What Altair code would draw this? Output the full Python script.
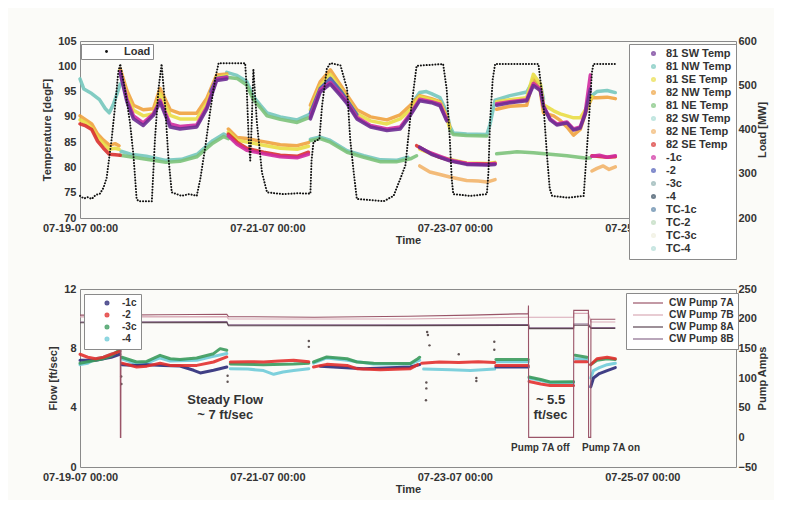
import altair as alt
import pandas as pd

BASE = pd.Timestamp("2007-07-19 00:00:00")
FONT = "Liberation Sans"
TEXT_COLOR = "#333333"

# ---------------- top panel: temperatures (hours since 07-19-07 00:00, degF) ----------------
TEMP_NAMES = ["81 SW Temp", "81 NW Temp", "81 SE Temp", "82 NW Temp", "81 NE Temp",
              "82 SW Temp", "82 NE Temp", "82 SE Temp", "-1c", "-2", "-3c", "-4",
              "TC-1c", "TC-2", "TC-3c", "TC-4"]
TEMP_COLORS = ["#6b2d92", "#74c6bc", "#e9dd45", "#efa23e", "#7cc27a",
               "#a8dcd4", "#f2b46a", "#d9302f", "#cf2a9f", "#4d5bb7", "#8fb0b0", "#33495e",
               "#5a83a6", "#bcd9bc", "#eeeedd", "#b2dcd6"]

TEAL = [
    [(0, 97.5), (1, 95.5), (3, 94.6), (5, 93.4), (6.5, 91.6), (7.5, 90.8), (8.5, 92.4), (9.5, 94.6), (10.3, 96.5)],
    [(10.5, 83.2), (13, 82.6), (17, 82.2), (22, 81.4), (26, 81.6), (30, 82.6), (34, 85.3), (36.8, 86.6), (37.6, 86.2)],
    [(37.6, 98.8), (40.2, 98.2), (42.7, 97.0), (44.4, 94.0), (46.2, 92.3), (47.9, 90.8), (51.3, 90.0), (55.6, 89.4), (58.5, 90.4)],
    [(59, 85.6), (61.5, 86.0), (64, 85.4), (68.4, 83.3), (72.7, 82.3), (77, 81.5), (81, 81.4), (84, 82.0)],
    [(85.3, 93.0), (87, 94.8), (88.7, 95.0), (90, 94.6), (92.2, 93.8), (93.9, 91.0), (94.7, 88.2), (95.6, 86.8),
     (99, 86.6), (104.2, 86.5), (105, 88.5), (106.3, 93.3), (110.1, 94.2), (114.4, 94.9), (116.1, 97.2),
     (117.9, 96.3), (118.7, 93.5)],
    [(130.7, 94.0), (132.4, 95.0), (135, 95.2), (137.1, 94.8)],
]
GREEN = [
    [(10.3, 82.4), (12.8, 82.1), (17, 81.6), (22, 81.0), (25.6, 81.2), (29.9, 82.1), (34, 84.8), (36.8, 86.1), (38, 85.7)],
    [(38, 97.8), (40.2, 97.6), (42.7, 96.3), (44.4, 93.4), (46.2, 91.8), (47.9, 90.2), (51.3, 89.5), (55.6, 88.9), (58.5, 89.8)],
    [(59, 85.3), (61.5, 85.7), (64.1, 85.0), (68.4, 83.0), (72.7, 82.0), (77, 81.1), (81, 81.1), (84.6, 81.7), (86.2, 82.3)],
    [(94.7, 87.5), (95.6, 86.5), (99, 86.3), (104.2, 86.2)],
    [(106.7, 82.7), (111.9, 83.1), (116.1, 82.9), (120.4, 82.6), (124.7, 82.3), (129.8, 81.8), (130.7, 81.9)],
]
ORANGE = [
    [(0, 90.2), (1.5, 89.4), (3, 88.6), (4.5, 86.6), (6, 85.4), (7.5, 84.4), (9, 84.7), (10, 84.3)],
    [(10.3, 99.5), (12, 95.2), (13.7, 92.3), (16.2, 91.4), (18.8, 91.6), (20.5, 95.6), (23.1, 91.4), (25.6, 90.7),
     (29.9, 90.7), (32.5, 93.7), (35, 98.3), (37.6, 98.5)],
    [(38, 87.6), (40.2, 85.9), (42.7, 85.7), (47, 85.1), (51.3, 84.5), (55.6, 84.3), (58.5, 84.9)],
    [(59, 92.3), (61.5, 96.9), (64.1, 99.3), (66.7, 96.3), (68.4, 94.3), (70.9, 91.4), (74.4, 90.0), (78.6, 89.4),
     (82, 90.4), (84.6, 92.3), (87, 94.2), (90, 93.6), (92.2, 93.0), (93.9, 90.2), (94.7, 88.0)],
    [(106.7, 91.5), (110.1, 92.1), (114.4, 92.3), (116.1, 97.5), (117.9, 95.0), (118.7, 90.8), (121.3, 90.2),
     (123, 89.3), (124.7, 88.0), (126.4, 86.4), (128.1, 87.5), (129.8, 91.5), (131.1, 93.8), (132.4, 93.8),
     (135, 93.9), (137.1, 93.6)],
]
ORANGE_LOW = [
    [(87, 80.3), (89.6, 79.1), (92.2, 78.6), (94.7, 78.1), (99, 77.4), (102, 77.3), (104.2, 77.1), (106.3, 77.6)],
    [(131.1, 79.3), (132.4, 79.8), (134, 80.3), (135.5, 79.6), (137.1, 80.1)],
]
YELLOW = [
    [(0, 89.4), (1.5, 88.8), (3, 87.8), (4.5, 86.0), (6, 84.7), (7.5, 83.6), (9, 83.8), (10, 83.6)],
    [(10.3, 99.2), (12, 94.2), (13.7, 91.3), (16.2, 90.2), (18.8, 90.6), (20.5, 94.6), (23.1, 90.3), (25.6, 89.6),
     (29.9, 89.6), (32.5, 92.8), (35, 97.8), (37.6, 98.2)],
    [(38, 87.0), (40.2, 85.4), (42.7, 85.0), (47, 84.4), (51.3, 83.8), (55.6, 83.6), (58.5, 84.2)],
    [(59, 91.4), (61.5, 96.1), (64.1, 98.4), (66.7, 95.6), (68.4, 93.6), (70.9, 90.6), (74.4, 89.2), (78.6, 88.6),
     (82, 89.6), (84.6, 91.4), (87, 94.0), (90, 93.4), (92.2, 92.8), (93.9, 89.8), (94.7, 87.8)],
    [(87, 83.6), (92.2, 82.0), (99, 80.9), (104.2, 80.8), (106.3, 81.0)],
    [(106.7, 93.0), (110.1, 93.4), (114.4, 93.8), (116.1, 98.4), (117.9, 96.5), (118.7, 92.4), (121.3, 91.2),
     (123, 90.6), (124.7, 90.2), (126.4, 89.8), (128.1, 89.8), (129.8, 91.8), (131.1, 94.0)],
]
RED = [
    [(0, 88.6), (1.5, 88.2), (3, 87.5), (4.5, 85.2), (6, 83.8), (7.5, 82.6), (9, 82.5), (10.3, 82.4)],
    [(38, 86.6), (40.2, 85.0), (42.7, 83.8), (47, 83.0), (51.3, 82.4), (55.6, 82.2), (58.5, 83.0)],
    [(86.2, 84.3), (88.7, 83.2), (92.2, 82.0), (95.6, 81.2), (99, 80.8), (104.2, 80.7), (106.3, 80.8)],
    [(131.1, 82.3), (132.4, 82.2), (135, 82.0), (137.1, 82.1)],
]
BLUE = [
    [(33.5, 95.0), (35, 97.6), (37.6, 97.9)],
    [(59, 90.8), (61.5, 95.6), (64.1, 97.6), (66.7, 95.2), (68.4, 93.3), (70.9, 90.4)],
]
MAGENTA = [
    [(10.3, 99.0), (12, 93.5), (13.7, 90.2), (16.2, 88.8), (18.8, 90.6), (20.5, 93.3), (23.1, 88.6), (25.6, 88.1),
     (29.9, 88.4), (32.5, 92.0), (35, 97.5), (37.6, 97.8)],
    [(38, 86.2), (40.2, 84.6), (42.7, 83.4), (47, 82.7), (51.3, 82.1), (55.6, 81.9), (58.5, 82.6)],
    [(59, 90.0), (61.5, 95.3), (64.1, 96.8), (66.7, 94.6), (68.4, 92.9), (70.9, 89.9), (74.4, 88.3), (78.6, 87.6),
     (82, 88.0), (84.6, 90.6), (87, 93.5), (90, 93.0), (92.2, 92.5), (93.9, 89.5)],
    [(87, 83.9), (90, 82.8), (94.7, 81.5), (99, 80.8), (104.2, 80.6), (106.3, 80.8)],
    [(106.7, 92.6), (110.1, 93.0), (114.4, 93.4), (116.1, 96.6), (117.9, 95.5), (118.7, 92.2), (120.4, 89.6),
     (122.1, 88.6), (124.7, 89.0), (126.4, 87.6), (128.1, 88.0), (129.4, 90.9), (130.7, 98.3)],
    [(131.1, 82.2), (133, 82.4), (135, 82.0), (137.1, 82.3)],
]
PURPLE = [
    [(10.3, 98.6), (12, 93.0), (13.7, 89.6), (16.2, 88.3), (18.8, 90.3), (20.5, 92.9), (23.1, 88.0), (25.6, 87.6),
     (29.9, 88.0), (32.5, 91.6), (35, 97.2), (37.6, 97.5)],
    [(59, 89.6), (61.5, 94.9), (64.1, 96.5), (66.7, 94.2), (68.4, 92.6), (70.9, 89.6), (74.4, 88.0), (78.6, 87.3),
     (82, 87.6), (84.6, 90.3), (87, 93.2), (90, 92.8), (92.2, 92.2), (93.9, 89.2)],
    [(87, 84.0), (90, 82.6), (94.7, 81.3), (99, 80.6), (104.2, 80.5), (106.3, 80.6)],
    [(106.7, 92.3), (110.1, 92.8), (114.4, 93.2), (116.1, 96.2), (117.9, 95.2), (118.7, 92.0), (120.4, 89.4),
     (122.1, 88.4), (124.7, 88.8), (126.4, 87.4), (128.1, 87.8), (129.4, 90.6), (130.7, 95.5)],
]
TEMP_DRAW = [("81 NW Temp", TEAL), ("81 NE Temp", GREEN), ("82 NE Temp", ORANGE_LOW), ("82 NW Temp", ORANGE),
             ("81 SE Temp", YELLOW), ("82 SE Temp", RED), ("-2", BLUE), ("-1c", MAGENTA), ("81 SW Temp", PURPLE)]

# plant load (hours, MW)
LOAD = [(0, 250), (1, 244), (2, 247), (3, 243), (4, 252), (5.1, 255), (6, 268), (6.8, 290), (8.1, 378), (9, 454),
        (9.8, 530), (10.3, 548), (11.5, 492), (12.8, 416), (13.7, 341), (14.5, 243), (15, 238), (18.4, 238),
        (19.2, 378), (20.1, 492), (20.9, 548), (21.8, 454), (22.6, 341), (23.5, 258), (26, 250), (28, 254),
        (29.9, 250), (30.8, 288), (32, 356), (33.3, 439), (34.6, 514), (35.5, 550), (42.3, 550), (42.7, 492),
        (43.2, 378), (43.6, 330), (44, 420), (44.4, 537), (45.3, 416), (46.6, 303), (47.9, 258), (52, 254),
        (56, 256), (59, 255), (59.3, 330), (59.8, 372), (61.3, 378), (62, 454), (63.2, 537), (64.1, 550),
        (66.7, 545), (68.4, 492), (69.2, 378), (70.1, 303), (70.9, 243), (77.8, 238), (80.3, 250), (82, 288),
        (83.3, 318), (83.6, 341), (84.9, 454), (86.2, 544), (93, 548), (93.9, 492), (94.7, 379), (95.2, 288),
        (95.6, 254), (100, 250), (104.2, 254), (104.6, 303), (105, 416), (105.7, 514), (106.3, 548), (117.4, 548),
        (118.7, 454), (119.6, 341), (120.3, 266), (120.9, 250), (125, 246), (129, 250), (129.4, 303), (130.3, 416),
        (131.1, 529), (131.5, 548), (137.1, 548)]

# ---------------- bottom panel: flow (hours, ft/sec) and pump amps ----------------
FLOW_NAMES = ["-1c", "-2", "-3c", "-4"]
FLOW_COLORS = ["#2b2a78", "#e2302e", "#3a9a5c", "#6fcbd8"]
FLOW_CYAN = [
    [(0, 6.9), (2, 7.0), (4, 7.3), (6, 7.4), (8, 7.6), (10.2, 7.8)],
    [(10.7, 7.3), (14.5, 6.95), (17.1, 7.0), (20.5, 7.35), (23.1, 7.15), (29.9, 7.2), (34.2, 7.46), (37.6, 7.65)],
    [(38.5, 6.63), (43, 6.6), (47, 6.5), (49.6, 6.25), (52, 6.4), (54.7, 6.5), (58.6, 6.63)],
    [(59.8, 7.0), (63.2, 7.35), (68.4, 7.2), (75.2, 6.95), (84.6, 6.95), (87, 7.2)],
    [(88, 6.6), (95, 6.55), (100, 6.5), (106.2, 6.6)],
    [(106.5, 7.1), (114.8, 7.1)],
    [(115, 6.0), (120.4, 5.7), (126.4, 5.7)],
    [(126.8, 7.3), (129.8, 7.25)],
    [(130.8, 6.0), (131.5, 6.5), (133, 6.7), (135, 6.9), (137.1, 7.0)],
]
FLOW_NAVY = [
    [(0, 7.2), (4, 7.2), (8, 7.4), (10.2, 7.6)],
    [(10.7, 6.9), (14.5, 6.85), (17.1, 6.9), (21.4, 6.85), (25.6, 6.81), (29.1, 6.52), (30.8, 6.34), (34.2, 6.52), (37.6, 6.74)],
    [(61.5, 6.8), (72.6, 6.63), (84.6, 6.74), (87, 6.9)],
    [(106.5, 6.75), (114.8, 6.75)],
    [(130.8, 5.4), (131.5, 6.0), (133, 6.3), (135, 6.5), (137.1, 6.7)],
]
FLOW_GREEN = [
    [(0, 7.0), (2, 7.1), (4, 7.2), (6, 7.3), (8, 7.5), (10.2, 7.9)],
    [(10.7, 7.4), (14.5, 7.08), (17.1, 7.12), (20.5, 7.53), (23.1, 7.3), (25.6, 7.25), (29.9, 7.35), (34.2, 7.64),
     (35.9, 7.98), (37.6, 7.87)],
    [(38.5, 6.95), (47, 6.9), (54.7, 6.95), (58.6, 7.0)],
    [(59.8, 7.08), (63.2, 7.42), (68.4, 7.3), (70.9, 7.08), (75.2, 7.0), (84.6, 6.98), (86.5, 7.3), (87, 7.4)],
    [(106.5, 7.24), (111, 7.25), (114.8, 7.25)],
    [(115, 6.07), (118, 5.9), (120.4, 5.73), (126.4, 5.75)],
    [(126.8, 7.53), (129.8, 7.4)],
    [(130.8, 6.9), (132.4, 7.2), (135, 7.3), (137.1, 7.25)],
]
FLOW_RED = [
    [(0, 7.6), (2, 7.4), (4, 7.3), (6, 7.4), (8, 7.6), (10.2, 7.8)],
    [(10.7, 7.0), (14.5, 6.74), (17.1, 6.8), (20.5, 7.0), (23.1, 6.85), (29.9, 6.85), (34.2, 7.08), (37.6, 7.42)],
    [(38.5, 7.08), (43, 7.1), (47, 7.08), (51, 7.15), (54.7, 7.19), (58.6, 7.1)],
    [(59.8, 6.74), (63.2, 6.92), (68.4, 6.85), (70.9, 6.63), (76.9, 6.56), (84.6, 6.63), (86.5, 6.9)],
    [(87.5, 7.0), (92, 7.08), (97, 7.05), (102, 7.1), (106.2, 7.05)],
    [(106.5, 6.85), (111, 6.85), (114.8, 6.85)],
    [(115, 5.77), (118, 5.6), (120.4, 5.5), (126.4, 5.5)],
    [(126.8, 7.1), (129.8, 7.1)],
    [(130.8, 6.9), (132.4, 7.3), (135, 7.4), (137.1, 7.3)],
]
FLOW_DRAW = [("-4", FLOW_CYAN), ("-1c", FLOW_NAVY), ("-3c", FLOW_GREEN), ("-2", FLOW_RED)]
FLOW_OUTLIERS = [(10.55, 6.1), (10.6, 5.6), (37.8, 6.15), (37.8, 5.75), (58.6, 8.1), (58.6, 8.5), (88.9, 9.1),
                 (89.1, 8.9), (89.5, 8.2), (88.7, 5.7), (88.7, 5.3), (88.6, 4.5), (101.5, 6.0), (101.5, 5.8),
                 (106.1, 8.45), (106.1, 7.9), (97, 7.6)]

PUMP_NAMES = ["CW Pump 7A", "CW Pump 7B", "CW Pump 8A", "CW Pump 8B"]
PUMP_COLORS = ["#9a5468", "#d9a9b6", "#5c4652", "#8a6a8c"]
PUMP_7A = [(0, 206), (10.3, 206), (10.35, 0), (10.45, 0), (10.5, 206), (20, 206.5), (37.6, 207.5), (38, 203.5),
           (60, 202.5), (84, 204), (100, 206), (114.8, 208.5), (114.85, 222), (114.9, 0), (126.4, 0),
           (126.45, 214), (130.2, 214), (130.25, 0), (130.8, 0), (130.85, 199), (137.1, 199)]
PUMP_7B = [(0, 203), (37.6, 203.5), (38, 199.5), (84, 199.5), (114.9, 202.5), (126.4, 202.5), (126.45, 209),
           (130.2, 209), (130.85, 194.5), (137.1, 194.5)]
PUMP_8A = [(0, 193), (37.6, 193.5), (38, 188), (84, 188.3), (114.9, 188.8), (115, 183.2), (126.4, 183.2),
           (126.45, 189), (130.2, 189), (130.85, 183.5), (137.1, 183.5)]
PUMP_8B = [(0, 194.5), (37.6, 195), (38, 189.5), (84, 189.5), (114.9, 190), (115, 184.5), (126.4, 184.5),
           (126.45, 191), (130.2, 191), (130.85, 185), (137.1, 185)]
PUMP_DRAW = [("CW Pump 8B", PUMP_8B), ("CW Pump 8A", PUMP_8A), ("CW Pump 7B", PUMP_7B), ("CW Pump 7A", PUMP_7A)]

ANNOT_BIG = [("Steady Flow", 37.2, 4.5), ("~ 7 ft/sec", 37.2, 3.5), ("~ 5.5", 120.5, 4.5), ("ft/sec", 120.5, 3.5)]
ANNOT_SMALL = [("Pump 7A off", 117.9, 1.3), ("Pump 7A on", 136.0, 1.3)]


def ts(h):
    return (BASE + pd.Timedelta(hours=h)).strftime("%Y-%m-%dT%H:%M:%S")


def seg_rows(name, segments):
    rows = []
    for i, seg in enumerate(segments):
        for h, v in seg:
            rows.append({"t": ts(h), "series": name, "seg": f"{name}#{i}", "v": v})
    return rows


temp_rows = []
for name, segs in TEMP_DRAW:
    temp_rows += seg_rows(name, segs)
temp_df = pd.DataFrame(temp_rows)
load_df = pd.DataFrame(seg_rows("Load", [LOAD]))

flow_rows = []
for name, segs in FLOW_DRAW:
    flow_rows += seg_rows(name, segs)
flow_df = pd.DataFrame(flow_rows)
out_df = pd.DataFrame(seg_rows("outlier", [FLOW_OUTLIERS]))
pump_rows = []
for name, pts in PUMP_DRAW:
    pump_rows += seg_rows(name, [pts])
pump_df = pd.DataFrame(pump_rows)
big_df = pd.DataFrame([{"t": ts(h), "v": v, "label": s} for s, h, v in ANNOT_BIG])
small_df = pd.DataFrame([{"t": ts(h), "v": v, "label": s} for s, h, v in ANNOT_SMALL])

W, H_TOP, H_BOT = 656, 177, 178


def x_enc():
    return alt.X(
        "t:T",
        scale=alt.Scale(domain=[alt.DateTime(year=2007, month=7, date=19),
                                alt.DateTime(year=2007, month=7, date=26)]),
        axis=alt.Axis(values=[alt.DateTime(year=2007, month=7, date=d) for d in (19, 21, 23, 25)],
                      format="%m-%d-%y %H:%M", title="Time", labelFlush=False,
                      labelPadding=4, titlePadding=1),
    )


legend_common = dict(orient="none", direction="vertical", title=None, labelFont=FONT, labelFontWeight="bold",
                     labelColor=TEXT_COLOR, strokeColor="#8a8a8a", fillColor="white", zindex=1)

temps = alt.Chart(temp_df).mark_line(strokeWidth=3.5, opacity=0.9, strokeCap="round", strokeJoin="round").encode(
    x=x_enc(),
    y=alt.Y("v:Q", scale=alt.Scale(domain=[70, 105], nice=False, zero=False),
            axis=alt.Axis(title="Temperature [degF]", values=list(range(70, 106, 5)), labelPadding=4, titlePadding=5)),
    color=alt.Color("series:N", scale=alt.Scale(domain=TEMP_NAMES, range=TEMP_COLORS),
                    legend=alt.Legend(legendX=549, legendY=3, symbolType="circle", symbolSize=8,
                                      symbolStrokeWidth=2.2, symbolOpacity=0.7, labelFontSize=11,
                                      rowPadding=0, padding=4, symbolOffset=15, labelOffset=7,
                                      **legend_common)),
    detail="seg:N",
)
load = alt.Chart(load_df).mark_line(strokeWidth=2, strokeCap="round", color="#111111").encode(
    x=x_enc(),
    y=alt.Y("v:Q", scale=alt.Scale(domain=[200, 600], nice=False, zero=False),
            axis=alt.Axis(title="Load [MW]", orient="right", values=[200, 300, 400, 500, 600],
                          titleAngle=270, titleBaseline="top", labelPadding=2, titlePadding=0)),
    strokeDash=alt.StrokeDash("series:N", scale=alt.Scale(domain=["Load"], range=[[0.1, 2.8]]),
                              legend=alt.Legend(legendX=1, legendY=3, symbolType="circle", symbolSize=8,
                                                symbolFillColor="#111111", symbolStrokeWidth=0,
                                                labelFontSize=11, padding=2, symbolOffset=18, labelOffset=12,
                                                **legend_common)),
)
top = alt.layer(temps, load).resolve_scale(y="independent").properties(width=W, height=H_TOP)

flow = alt.Chart(flow_df).mark_line(strokeWidth=3, opacity=0.9, strokeCap="round", strokeJoin="round").encode(
    x=x_enc(),
    y=alt.Y("v:Q", scale=alt.Scale(domain=[0, 12], nice=False, zero=False),
            axis=alt.Axis(title="Flow [ft/sec]", values=list(range(0, 13, 2)), labelPadding=4, titlePadding=5)),
    color=alt.Color("series:N", scale=alt.Scale(domain=FLOW_NAMES, range=FLOW_COLORS),
                    legend=alt.Legend(legendX=4, legendY=5, symbolType="circle", symbolSize=8,
                                      symbolStrokeWidth=2.2, symbolOpacity=0.8, labelFontSize=10,
                                      rowPadding=0, padding=4, symbolOffset=14, labelOffset=10,
                                      **legend_common)),
    detail="seg:N",
)
outl = alt.Chart(out_df).mark_circle(size=6, color="#3a2a2a", opacity=0.8).encode(x=x_enc(), y="v:Q")
big_txt = alt.Chart(big_df).mark_text(font=FONT, fontWeight="bold", fontSize=13, color=TEXT_COLOR).encode(
    x=x_enc(), y="v:Q", text="label:N")
small_txt = alt.Chart(small_df).mark_text(font=FONT, fontWeight="bold", fontSize=10, color=TEXT_COLOR).encode(
    x=x_enc(), y="v:Q", text="label:N")
flow_group = alt.layer(flow, outl, big_txt, small_txt)

pumps = alt.Chart(pump_df).mark_line(strokeWidth=1.1).encode(
    x=x_enc(),
    y=alt.Y("v:Q", scale=alt.Scale(domain=[-50, 250], nice=False, zero=False),
            axis=alt.Axis(title="Pump Amps", orient="right", values=list(range(-50, 251, 50)),
                          titleAngle=270, titleBaseline="top", labelPadding=2, titlePadding=0)),
    color=alt.Color("series:N", scale=alt.Scale(domain=PUMP_NAMES, range=PUMP_COLORS),
                    legend=alt.Legend(legendX=546, legendY=4, symbolType="M-3,0H3", symbolSize=100,
                                      symbolStrokeWidth=1.2, labelFontSize=10.3, rowPadding=0, padding=4,
                                      symbolOffset=12, labelOffset=15, **legend_common)),
    detail="seg:N",
)
bottom = alt.layer(flow_group, pumps).resolve_scale(y="independent", color="independent").properties(
    width=W, height=H_BOT)

chart = alt.vconcat(top, bottom, spacing=71, bounds="flush").properties(
    padding={"left": 33, "top": 26, "right": 5, "bottom": 5}
).configure(
    background="#fbfbf8", font=FONT
).configure_view(
    stroke="#8a8a8a", strokeWidth=1
).configure_axis(
    labelFont=FONT, labelFontWeight="bold", labelFontSize=11, labelColor=TEXT_COLOR,
    titleFont=FONT, titleFontWeight="bold", titleFontSize=11, titleColor=TEXT_COLOR,
    domain=False, ticks=False, grid=False
)

chart.save("out.html", embed_options={"renderer": "svg", "actions": False})
